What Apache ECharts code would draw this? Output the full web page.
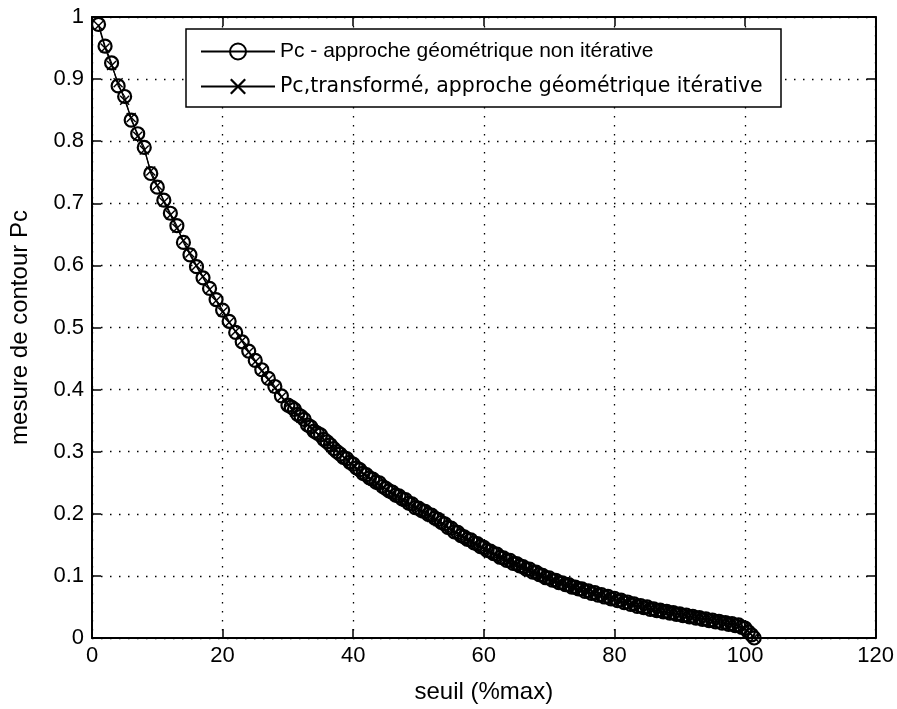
<!DOCTYPE html>
<html>
<head>
<meta charset="utf-8">
<script src="https://cdn.jsdelivr.net/npm/echarts@6/dist/echarts.min.js"></script>
<style>
html,body{margin:0;padding:0;background:#fff;}
#chart{width:897px;height:709px;}
</style>
</head>
<body>
<div id="chart"></div>
<script>
// ---- data ----
// "o" series (non-iterative): sampled every 1 % up to 30, then every 0.5 %
const seuilNonIter = [1,2,3,4,5,6,7,8,9,10,11,12,13,14,15,16,17,18,19,20,
  21,22,23,24,25,26,27,28,29,30,
  30.5,31,31.5,32,32.5,33,33.5,34,34.5,35,35.5,36,36.5,37,37.5,38,38.5,39,39.5,40,
  40.5,41,41.5,42,42.5,43,43.5,44,44.5,45,45.5,46,46.5,47,47.5,48,48.5,49,49.5,50,
  50.5,51,51.5,52,52.5,53,53.5,54,54.5,55,55.5,56,56.5,57,57.5,58,58.5,59,59.5,60,
  60.5,61,61.5,62,62.5,63,63.5,64,64.5,65,65.5,66,66.5,67,67.5,68,68.5,69,69.5,70,
  70.5,71,71.5,72,72.5,73,73.5,74,74.5,75,75.5,76,76.5,77,77.5,78,78.5,79,79.5,80,
  80.5,81,81.5,82,82.5,83,83.5,84,84.5,85,85.5,86,86.5,87,87.5,88,88.5,89,89.5,90,
  90.5,91,91.5,92,92.5,93,93.5,94,94.5,95,95.5,96,96.5,97,97.5,98,98.5,99,99.5,100,
  100.5,101,101.4];
const pcNonIterative = [0.988,0.953,0.926,0.889,0.872,0.834,0.812,0.790,0.748,0.726,
  0.705,0.684,0.664,0.637,0.617,0.598,0.580,0.563,0.545,0.528,
  0.510,0.492,0.477,0.462,0.447,0.432,0.418,0.405,0.390,0.375,
  0.372,0.368,0.360,0.357,0.352,0.343,0.340,0.333,0.330,0.327,0.320,0.316,0.311,0.305,0.300,0.296,0.291,0.289,0.283,0.280,
  0.274,0.271,0.265,0.263,0.258,0.256,0.251,0.250,0.244,0.241,0.237,0.235,0.230,0.229,0.224,0.223,0.217,0.216,0.210,0.209,
  0.205,0.204,0.199,0.198,0.193,0.191,0.186,0.184,0.178,0.177,0.171,0.170,0.165,0.163,0.159,0.158,0.153,0.152,0.147,0.146,
  0.141,0.140,0.136,0.135,0.130,0.129,0.125,0.125,0.120,0.120,0.116,0.115,0.111,0.111,0.106,0.106,0.102,0.101,0.097,0.097,
  0.093,0.093,0.089,0.089,0.086,0.086,0.082,0.082,0.079,0.079,0.075,0.076,0.072,0.073,0.069,0.070,0.066,0.067,0.063,0.064,
  0.060,0.061,0.057,0.058,0.054,0.055,0.051,0.052,0.049,0.050,0.046,0.047,0.044,0.045,0.042,0.043,0.040,0.041,0.038,0.039,
  0.036,0.037,0.034,0.035,0.032,0.033,0.030,0.031,0.028,0.029,0.026,0.027,0.024,0.025,0.022,0.023,0.020,0.021,0.017,0.016,
  0.010,0.005,0.000];
// "x" series (transformed, iterative): sampled every 1 %
const seuilIter = [1,2,3,4,5,6,7,8,9,10,11,12,13,14,15,16,17,18,19,20,
  21,22,23,24,25,26,27,28,29,30,31,32,33,34,35,36,37,38,39,40,
  41,42,43,44,45,46,47,48,49,50,51,52,53,54,55,56,57,58,59,60,
  61,62,63,64,65,66,67,68,69,70,71,72,73,74,75,76,77,78,79,80,
  81,82,83,84,85,86,87,88,89,90,91,92,93,94,95,96,97,98,99,100,100.7,101.4];
const pcIterative = [0.986,0.950,0.922,0.894,0.866,0.838,0.808,0.786,0.752,0.729,
  0.702,0.681,0.660,0.640,0.620,0.600,0.582,0.561,0.543,0.525,
  0.508,0.494,0.479,0.460,0.445,0.430,0.416,0.402,0.388,0.376,
  0.364,0.354,0.343,0.334,0.324,0.315,0.305,0.297,0.287,0.277,
  0.269,0.261,0.253,0.246,0.239,0.232,0.226,0.219,0.213,0.207,
  0.200,0.194,0.187,0.181,0.174,0.167,0.161,0.155,0.149,0.143,
  0.138,0.132,0.127,0.122,0.117,0.113,0.108,0.104,0.099,0.095,
  0.091,0.087,0.084,0.080,0.077,0.074,0.071,0.068,0.065,0.062,
  0.059,0.056,0.053,0.050,0.048,0.045,0.043,0.041,0.039,0.037,
  0.035,0.033,0.031,0.029,0.027,0.025,0.023,0.021,0.019,0.015,0.008,0.001];
const xTicks = [0,20,40,60,80,100,120];
const yTicks = [0,0.1,0.2,0.3,0.4,0.5,0.6,0.7,0.8,0.9,1];
const seriesNames = ['Pc - approche géométrique non itérative','Pc,transformé, approche géométrique itérative'];
const xTitle = 'seuil (%max)';
const yTitle = 'mesure de contour Pc';

const FONT = '"Liberation Sans", Arial, Helvetica, sans-serif';
const crossPath = 'path://M0,1L1,0L5,4L9,0L10,1L6,5L10,9L9,10L5,6L1,10L0,9L4,5Z';

function pairs(xs, ys){ return xs.map((x,i)=>[x, ys[i]]); }

const chart = echarts.init(document.getElementById('chart'), null, {renderer:'canvas'});
const axisLineStyle = {color:'#000', width:2};
chart.setOption({
  animation:false,
  backgroundColor:'#fff',
  grid:{left:85, right:17, top:17, bottom:67, containLabel:false},
  graphic:[{
    type:'rect', z:10, shape:{x:186, y:29, width:595, height:78},
    style:{fill:'#fff', stroke:'#000', lineWidth:1.5}
  }],
  legend:{
    left:186, top:29, orient:'vertical', z:11,
    padding:[12,10,12,14],
    itemWidth:74, itemHeight:20, itemGap:14,
    textStyle:{fontFamily:FONT, fontSize:21, color:'#000', lineHeight:20,
      rich:{w:{fontFamily:'"DejaVu Sans", "Liberation Sans", sans-serif', fontSize:20.5, color:'#000', lineHeight:20}}},
    formatter:name=> name===seriesNames[1] ? '{w|'+name+'}' : name,
    data:seriesNames
  },
  xAxis:[{
    type:'value', min:0, max:120, interval:20, position:'bottom',
    name:xTitle, nameLocation:'middle', nameGap:42,
    nameTextStyle:{fontFamily:FONT, fontSize:24, color:'#000'},
    axisLine:{show:true, onZero:false, lineStyle:axisLineStyle},
    axisTick:{show:true, inside:true, length:9, lineStyle:{color:'#000', width:1.5}},
    axisLabel:{fontFamily:FONT, fontSize:22, color:'#000', margin:7,
      formatter:v=>xTicks.includes(v)?String(v):''},
    splitLine:{show:true, lineStyle:{color:'#000', width:1.3, type:[1.5,7.5]}}
  },{
    type:'value', min:0, max:120, interval:20, position:'top',
    axisLine:{show:true, onZero:false, lineStyle:axisLineStyle},
    axisTick:{show:true, inside:true, length:9, lineStyle:{color:'#000', width:1.5}},
    axisLabel:{show:false}, splitLine:{show:false}
  }],
  yAxis:[{
    type:'value', min:0, max:1, interval:0.1, position:'left',
    name:yTitle, nameLocation:'middle', nameGap:60,
    nameTextStyle:{fontFamily:FONT, fontSize:24, color:'#000'},
    axisLine:{show:true, onZero:false, lineStyle:axisLineStyle},
    axisTick:{show:true, inside:true, length:9, lineStyle:{color:'#000', width:1.5}},
    axisLabel:{fontFamily:FONT, fontSize:22, color:'#000', margin:8,
      formatter:v=>{const t=yTicks.find(k=>Math.abs(k-v)<1e-9); return t===undefined?'':(t===0||t===1?String(t):t.toFixed(1));}},
    splitLine:{show:true, lineStyle:{color:'#000', width:1.3, type:[1.5,7.5]}}
  },{
    type:'value', min:0, max:1, interval:0.1, position:'right',
    axisLine:{show:true, onZero:false, lineStyle:axisLineStyle},
    axisTick:{show:true, inside:true, length:9, lineStyle:{color:'#000', width:1.5}},
    axisLabel:{show:false}, splitLine:{show:false}
  }],
  series:[{
    name:seriesNames[0], type:'line', xAxisIndex:0, yAxisIndex:0,
    data:pairs(seuilNonIter, pcNonIterative),
    symbol:'circle', symbolSize:13, showAllSymbol:true,
    lineStyle:{color:'#000', width:1.2},
    itemStyle:{color:'rgba(0,0,0,0)', borderColor:'#000', borderWidth:2.2},
    emphasis:{disabled:true}
  },{
    name:seriesNames[1], type:'line', xAxisIndex:0, yAxisIndex:0,
    data:pairs(seuilIter, pcIterative),
    symbol:crossPath, symbolSize:10, showAllSymbol:true,
    lineStyle:{color:'#000', width:1.2},
    itemStyle:{color:'#000'},
    emphasis:{disabled:true}
  }]
});
</script>
</body>
</html>
